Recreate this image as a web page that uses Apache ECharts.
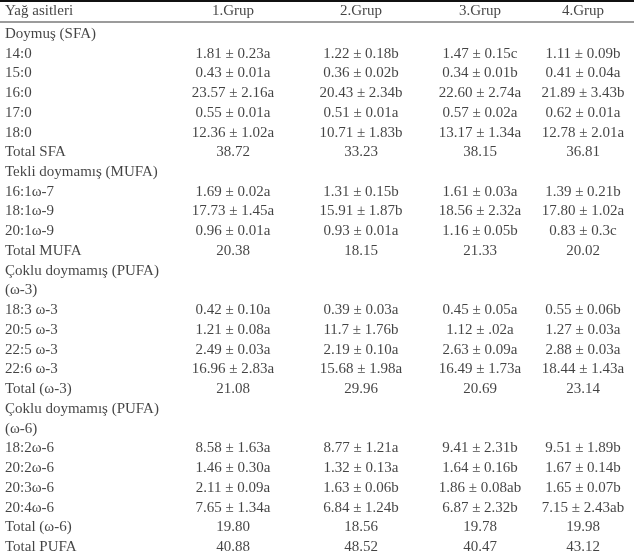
<!DOCTYPE html>
<html>
<head>
<meta charset="utf-8">
<script src="https://cdn.jsdelivr.net/npm/echarts@6/dist/echarts.min.js"></script>
<style>html,body{margin:0;padding:0;background:#fff;}#c{width:634px;height:557px;}</style>
</head>
<body>
<div id="c"></div>
<script>
// ---- data ----
const headers = ["Yağ asitleri", "1.Grup", "2.Grup", "3.Grup", "4.Grup"];
const rowLabels = [
  "Doymuş (SFA)", "14:0", "15:0", "16:0", "17:0", "18:0", "Total SFA",
  "Tekli doymamış (MUFA)", "16:1ω-7", "18:1ω-9", "20:1ω-9", "Total MUFA",
  "Çoklu doymamış (PUFA)", "(ω-3)", "18:3 ω-3", "20:5 ω-3", "22:5 ω-3", "22:6 ω-3", "Total (ω-3)",
  "Çoklu doymamış (PUFA)", "(ω-6)", "18:2ω-6", "20:2ω-6", "20:3ω-6", "20:4ω-6", "Total (ω-6)", "Total PUFA"
];
const grup1 = ["", "1.81 ± 0.23a", "0.43 ± 0.01a", "23.57 ± 2.16a", "0.55 ± 0.01a", "12.36 ± 1.02a", "38.72",
  "", "1.69 ± 0.02a", "17.73 ± 1.45a", "0.96 ± 0.01a", "20.38",
  "", "", "0.42 ± 0.10a", "1.21 ± 0.08a", "2.49 ± 0.03a", "16.96 ± 2.83a", "21.08",
  "", "", "8.58 ± 1.63a", "1.46 ± 0.30a", "2.11 ± 0.09a", "7.65 ± 1.34a", "19.80", "40.88"];
const grup2 = ["", "1.22 ± 0.18b", "0.36 ± 0.02b", "20.43 ± 2.34b", "0.51 ± 0.01a", "10.71 ± 1.83b", "33.23",
  "", "1.31 ± 0.15b", "15.91 ± 1.87b", "0.93 ± 0.01a", "18.15",
  "", "", "0.39 ± 0.03a", "11.7 ± 1.76b", "2.19 ± 0.10a", "15.68 ± 1.98a", "29.96",
  "", "", "8.77 ± 1.21a", "1.32 ± 0.13a", "1.63 ± 0.06b", "6.84 ± 1.24b", "18.56", "48.52"];
const grup3 = ["", "1.47 ± 0.15c", "0.34 ± 0.01b", "22.60 ± 2.74a", "0.57 ± 0.02a", "13.17 ± 1.34a", "38.15",
  "", "1.61 ± 0.03a", "18.56 ± 2.32a", "1.16 ± 0.05b", "21.33",
  "", "", "0.45 ± 0.05a", "1.12 ± .02a", "2.63 ± 0.09a", "16.49 ± 1.73a", "20.69",
  "", "", "9.41 ± 2.31b", "1.64 ± 0.16b", "1.86 ± 0.08ab", "6.87 ± 2.32b", "19.78", "40.47"];
const grup4 = ["", "1.11 ± 0.09b", "0.41 ± 0.04a", "21.89 ± 3.43b", "0.62 ± 0.01a", "12.78 ± 2.01a", "36.81",
  "", "1.39 ± 0.21b", "17.80 ± 1.02a", "0.83 ± 0.3c", "20.02",
  "", "", "0.55 ± 0.06b", "1.27 ± 0.03a", "2.88 ± 0.03a", "18.44 ± 1.43a", "23.14",
  "", "", "9.51 ± 1.89b", "1.67 ± 0.14b", "1.65 ± 0.07b", "7.15 ± 2.43ab", "19.98", "43.12"];

// ---- layout / style ----
const colX = [5, 233, 361, 480, 583];   // column anchor positions (x axis units = px)
const FONT = '"Liberation Serif", "Times New Roman", serif';
const FS = 15;
const TXT = '#141414';

const bodyCols = [rowLabels, grup1, grup2, grup3, grup4];
const bodyRows = rowLabels.map((r, i) => "r" + i);

function labelCfg(ci) {
  return {
    show: true, position: 'inside',
    align: ci === 0 ? 'left' : 'center', verticalAlign: 'middle',
    fontFamily: FONT, fontSize: FS, color: TXT,
    formatter: p => p.data.text
  };
}

const series = [];
// header row (grid 0)
headers.forEach((h, ci) => {
  series.push({
    type: 'scatter', symbolSize: 0, silent: true,
    xAxisIndex: 0, yAxisIndex: 0,
    data: [{ value: [colX[ci], "h"], text: h }],
    label: labelCfg(ci)
  });
});
// body rows (grid 1)
bodyCols.forEach((col, ci) => {
  series.push({
    type: 'scatter', symbolSize: 0, silent: true,
    xAxisIndex: 2, yAxisIndex: 1,
    data: col.map((t, ri) => ({ value: [colX[ci], bodyRows[ri]], text: t })),
    label: labelCfg(ci)
  });
});

const hidden = { axisTick: { show: false }, axisLabel: { show: false }, splitLine: { show: false } };

const chart = echarts.init(document.getElementById('c'), null, { renderer: 'canvas' });
chart.setOption({
  animation: false,
  backgroundColor: '#fff',
  grid: [
    { left: 0, right: 0, top: 1, height: 21, containLabel: false },
    { left: 0, right: 0, top: 24, bottom: 0, containLabel: false }
  ],
  xAxis: [
    Object.assign({ type: 'value', min: 0, max: 634, gridIndex: 0, position: 'top',
      axisLine: { show: true, lineStyle: { color: '#111', width: 2 } } }, hidden),
    Object.assign({ type: 'value', min: 0, max: 634, gridIndex: 0, position: 'bottom',
      axisLine: { show: true, lineStyle: { color: '#7a7a7a', width: 1.5 } } }, hidden),
    Object.assign({ type: 'value', min: 0, max: 634, gridIndex: 1,
      axisLine: { show: false } }, hidden)
  ],
  yAxis: [
    Object.assign({ type: 'category', data: ["h"], gridIndex: 0, axisLine: { show: false } }, hidden),
    Object.assign({ type: 'category', data: bodyRows, inverse: true, gridIndex: 1, axisLine: { show: false } }, hidden)
  ],
  series: series
});
</script>
</body>
</html>
